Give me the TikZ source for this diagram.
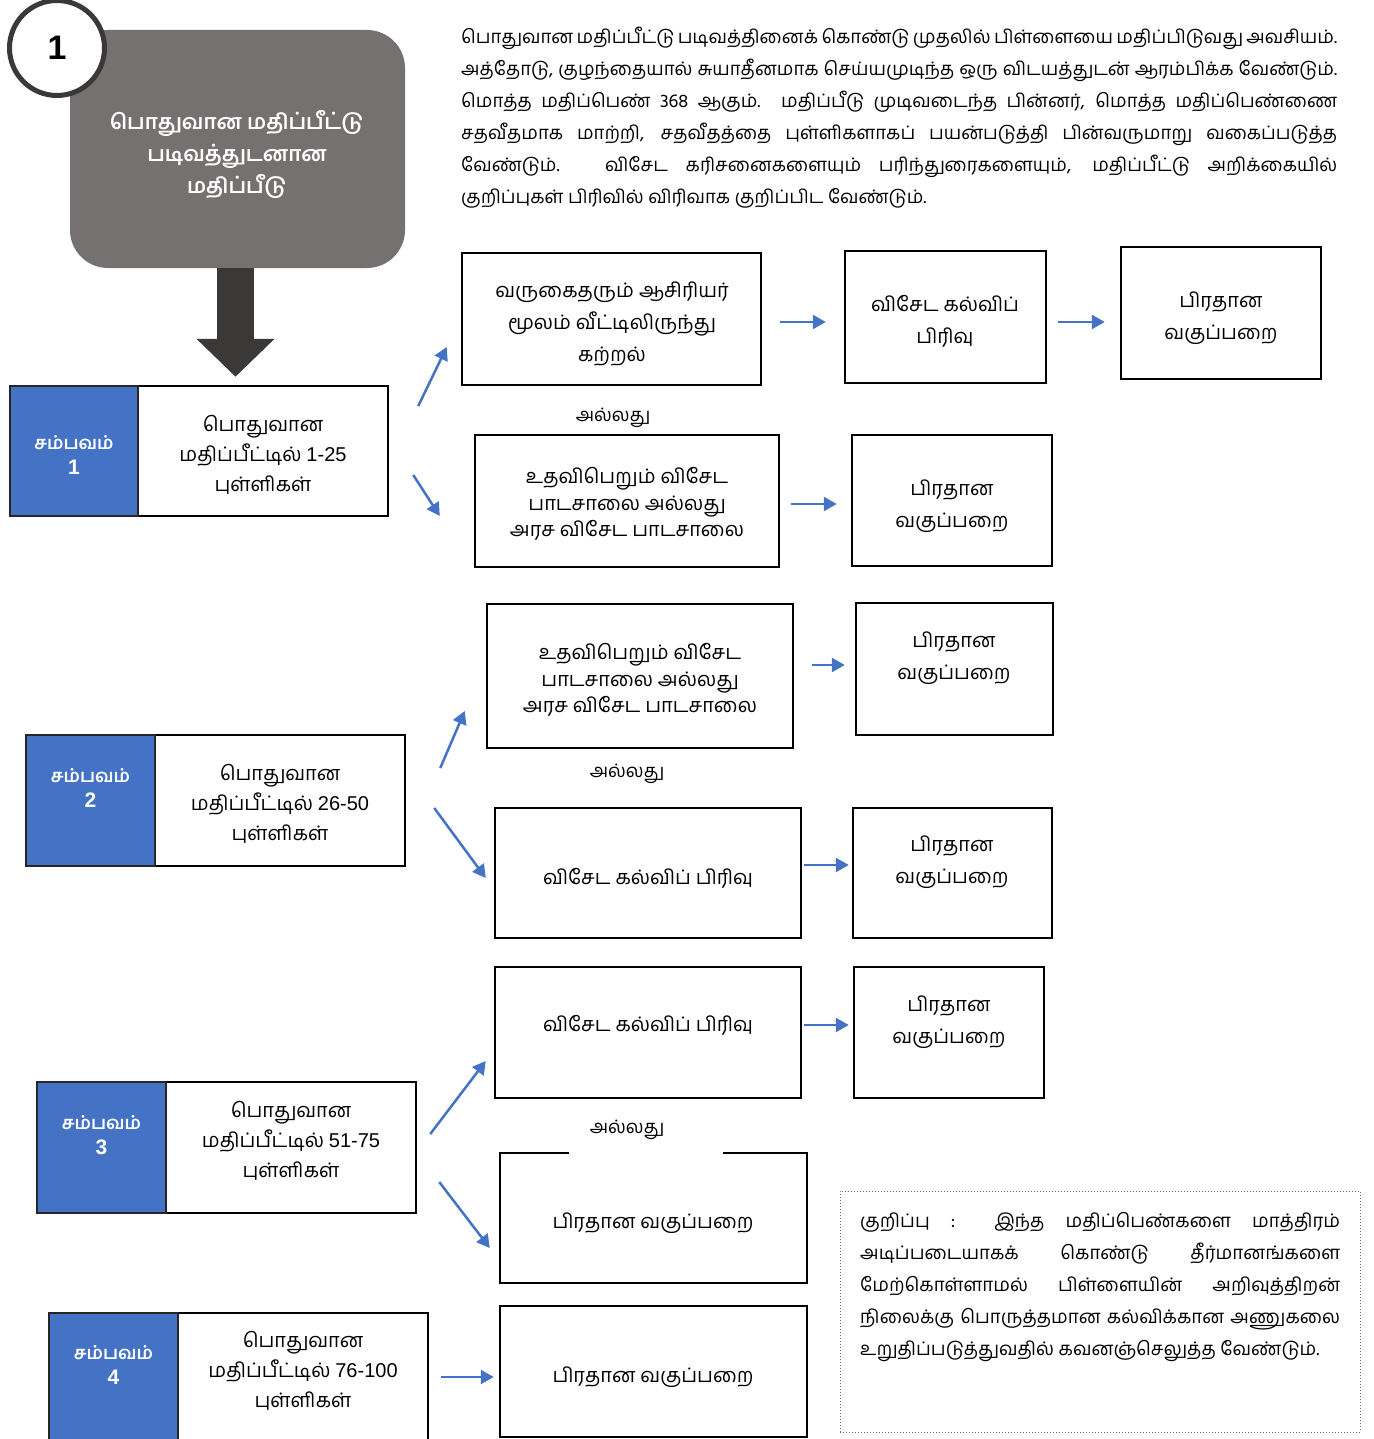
\documentclass[tikz,border=0pt]{standalone}
\usepackage{fontspec}
\setmainfont{Liberation Sans}
\newfontfamily\tam[Script=Tamil]{Hind Madurai}
\usetikzlibrary{arrows.meta,calc}
\definecolor{obl}{HTML}{4472C4}
\definecolor{ogray}{HTML}{767171}
\definecolor{odark}{HTML}{3B3838}
\newcommand{\lat}[1]{{\rmfamily #1}}
\newcommand{\bignum}[1]{{\rmfamily\fontsize{21}{25}\selectfont #1}}
\tikzset{
  bx/.style={draw=black, line width=2.5pt, inner sep=0pt},
  tt/.style={align=center, font=\tam\fontsize{20}{32}\selectfont, inner sep=0pt},
  tt3/.style={align=center, font=\tam\fontsize{20}{26.5}\selectfont, inner sep=0pt},
  arr/.style={draw=obl, line width=2.5pt, -{Triangle[length=13pt,width=14pt]}},
  sb/.style={fill=obl, draw=black!85, line width=2pt, inner sep=0pt, text=white, align=center, font=\tam\bfseries\fontsize{18}{25}\selectfont},
  sw/.style={draw=black, line width=2.5pt, fill=white, inner sep=0pt, align=center, font=\tam\fontsize{20}{30}\selectfont},
  orlbl/.style={font=\tam\fontsize{18.5}{20}\selectfont, inner sep=0pt},
  bigarr/.style={draw=odark, line width=37pt, -{Triangle[length=38pt,width=76pt]}},
}
\begin{document}
\begin{tikzpicture}[x=1pt,y=-1pt]
\useasboundingbox (0,0) rectangle (1373,1439);
% header
\node[fill=ogray, rounded corners=38pt, minimum width=335pt, minimum height=238pt, inner sep=0pt] (head) at (237.5,149) {};
\node[text=white, align=center, inner sep=0pt, font=\tam\bfseries\fontsize{21}{32}\selectfont] (headt) at (237,154) {பொதுவான மதிப்பீட்டு\\படிவத்துடனான\\மதிப்பீடு};
\node[circle, draw=odark, line width=5pt, fill=white, minimum size=95pt, inner sep=0pt, font=\bfseries\fontsize{34}{36}\selectfont] (num) at (57,48) {1};
% paragraph
\node[anchor=north west, text width=876pt, align=justify, inner sep=0pt, font=\tam\fontsize{18.6}{32}\selectfont] (intro) at (461,27) {பொதுவான மதிப்பீட்டு படிவத்தினைக் கொண்டு முதலில் பிள்ளையை மதிப்பிடுவது அவசியம்.\linebreak அத்தோடு, குழந்தையால் சுயாதீனமாக செய்யமுடிந்த ஒரு விடயத்துடன் ஆரம்பிக்க வேண்டும்.\linebreak மொத்த மதிப்பெண் 368 ஆகும். மதிப்பீடு முடிவடைந்த பின்னர், மொத்த மதிப்பெண்ணை\linebreak சதவீதமாக மாற்றி, சதவீதத்தை புள்ளிகளாகப் பயன்படுத்தி பின்வருமாறு வகைப்படுத்த\linebreak வேண்டும். விசேட கரிசனைகளையும் பரிந்துரைகளையும், மதிப்பீட்டு அறிக்கையில்\linebreak குறிப்புகள் பிரிவில் விரிவாக குறிப்பிட வேண்டும்.};
% samp boxes
\node[sw, minimum width=250pt, minimum height=130pt] (s1w) at (263,451) {};
\node[sw, draw=none, fill=none] (s1t) at (263,455) {பொதுவான\\மதிப்பீட்டில் \lat{1-25}\\புள்ளிகள்};
\node[sb, minimum width=128pt, minimum height=130pt] (s1b) at (74,451) {};
\node[sb, draw=none, fill=none] (s1l) at (74,455) {சம்பவம்\\\bignum{1}};
\node[sw, minimum width=250pt, minimum height=131pt] (s2w) at (280,800.5) {};
\node[sw, draw=none, fill=none] (s2t) at (280,804) {பொதுவான\\மதிப்பீட்டில் \lat{26-50}\\புள்ளிகள்};
\node[sb, minimum width=129pt, minimum height=131pt] (s2b) at (90.5,800.5) {};
\node[sb, draw=none, fill=none] (s2l) at (90.5,788) {சம்பவம்\\\bignum{2}};
\node[sw, minimum width=250pt, minimum height=131pt] (s3w) at (291,1147.5) {};
\node[sw, draw=none, fill=none] (s3t) at (291,1141) {பொதுவான\\மதிப்பீட்டில் \lat{51-75}\\புள்ளிகள்};
\node[sb, minimum width=129pt, minimum height=131pt] (s3b) at (101.5,1147.5) {};
\node[sb, draw=none, fill=none] (s3l) at (101.5,1135) {சம்பவம்\\\bignum{3}};
\node[sw, minimum width=250pt, minimum height=131pt] (s4w) at (303,1378.5) {};
\node[sw, draw=none, fill=none] (s4t) at (303,1371) {பொதுவான\\மதிப்பீட்டில் \lat{76-100}\\புள்ளிகள்};
\node[sb, minimum width=129pt, minimum height=131pt] (s4b) at (113.5,1378.5) {};
\node[sb, draw=none, fill=none] (s4l) at (113.5,1365) {சம்பவம்\\\bignum{4}};
% big arrow
\draw[bigarr] ($(head.south)+(-2,0)$) -- ($(head.south |- s1w.north)+(-2,-8)$);
% row 1
\node[bx, minimum width=299pt, minimum height=132pt] (a1) at (611.5,319) {};
\node[tt] (a1t) at (612,324) {வருகைதரும் ஆசிரியர்\\மூலம் வீட்டிலிருந்து\\கற்றல்};
\node[bx, minimum width=201pt, minimum height=132pt] (b1) at (945.5,317) {};
\node[tt] (b1t) at (945,321) {விசேட கல்விப்\\பிரிவு};
\node[bx, minimum width=200pt, minimum height=132pt] (c1) at (1221,313) {};
\node[tt] (c1t) at (1221,318) {பிரதான\\வகுப்பறை};
\node[orlbl] (or1) at (613,418) {அல்லது};
\node[bx, minimum width=304pt, minimum height=132pt] (a2) at (627,501) {};
\node[tt3] (a2t) at (627,504) {உதவிபெறும் விசேட\\பாடசாலை அல்லது\\அரச விசேட பாடசாலை};
\node[bx, minimum width=200pt, minimum height=131pt] (b2) at (952,500.5) {};
\node[tt] (b2t) at (952,506) {பிரதான\\வகுப்பறை};
% row 2
\node[bx, minimum width=306pt, minimum height=144pt] (r2a) at (640,676) {};
\node[tt3] (r2at) at (640,680) {உதவிபெறும் விசேட\\பாடசாலை அல்லது\\அரச விசேட பாடசாலை};
\node[bx, minimum width=197pt, minimum height=132pt] (r2b) at (954.5,669) {};
\node[tt] (r2bt) at (954,658) {பிரதான\\வகுப்பறை};
\node[orlbl] (or2) at (627,774) {அல்லது};
\node[bx, minimum width=306pt, minimum height=130pt] (r2c) at (648,873) {};
\node[tt] (r2ct) at (648,878) {விசேட கல்விப் பிரிவு};
\node[bx, minimum width=199pt, minimum height=130pt] (r2d) at (952.5,873) {};
\node[tt] (r2dt) at (952,862) {பிரதான\\வகுப்பறை};
% row 3
\node[bx, minimum width=306pt, minimum height=131pt] (r3a) at (648,1032.5) {};
\node[tt] (r3at) at (648,1025) {விசேட கல்விப் பிரிவு};
\node[bx, minimum width=190pt, minimum height=131pt] (r3b) at (949,1032.5) {};
\node[tt] (r3bt) at (949,1022) {பிரதான\\வகுப்பறை};
\node[orlbl] (or3) at (627,1130) {அல்லது};
\node[inner sep=0pt, minimum width=307pt, minimum height=130pt] (r3c) at (653.5,1218) {};
\draw[line width=2.5pt] ($(r3c.north west)+(69,0)$) -- (r3c.north west) -- (r3c.south west) -- (r3c.south east) -- (r3c.north east) -- ($(r3c.north east)+(-84,0)$);
\node[tt] (r3ct) at (653,1223) {பிரதான வகுப்பறை};
% row 4
\node[bx, minimum width=307pt, minimum height=131pt] (r4) at (653.5,1371.5) {};
\node[tt] (r4t) at (653,1377) {பிரதான வகுப்பறை};
% note
\node[draw=black!60, dotted, line width=1pt, minimum width=520pt, minimum height=241pt, inner sep=0pt] (note) at (1100,1311.5) {};
\node[anchor=north west, text width=480pt, align=justify, inner sep=0pt, font=\tam\fontsize{18.7}{32}\selectfont] (notet) at (860,1212) {குறிப்பு : இந்த மதிப்பெண்களை மாத்திரம்\linebreak அடிப்படையாகக் கொண்டு தீர்மானங்களை\linebreak மேற்கொள்ளாமல் பிள்ளையின் அறிவுத்திறன்\linebreak நிலைக்கு பொருத்தமான கல்விக்கான அணுகலை\linebreak உறுதிப்படுத்துவதில் கவனஞ்செலுத்த வேண்டும்.};
% arrows
\draw[arr] ($(a1.east)+(18,3)$) -- ($(b1.west)+(-18,5)$);
\draw[arr] ($(b1.east)+(11,5)$) -- ($(c1.west)+(-15,9)$);
\draw[arr] ($(a2.east)+(11,3)$) -- ($(b2.west)+(-14,3.5)$);
\draw[arr] ($(r2a.east)+(18,-11)$) -- ($(r2b.west)+(-10,-4)$);
\draw[arr] ($(r2c.east)+(2,-8)$) -- ($(r2d.west)+(-3,-8)$);
\draw[arr] ($(r3a.east)+(2,-7.5)$) -- ($(r3b.west)+(-4,-7.5)$);
\draw[arr] ($(s4w.east)+(12,-1.5)$) -- ($(r4.west)+(-5,5.5)$);
\draw[arr] ($(s1w.east)+(29,-45)$) -- ($(a1.west)+(-14,28)$);
\draw[arr] ($(s1w.east)+(24,24)$) -- ($(a2.west)+(-34,15)$);
\draw[arr] ($(s2w.east)+(34,-32.5)$) -- ($(r2a.west)+(-21,35)$);
\draw[arr] ($(s2w.east)+(28,7.5)$) -- ($(r2c.west)+(-8,5)$);
\draw[arr] ($(s3w.east)+(13,-13.5)$) -- ($(r3a.west)+(-8,28.5)$);
\draw[arr] ($(s3w.east)+(22,34.5)$) -- ($(r3c.west)+(-10,30)$);
\end{tikzpicture}
\end{document}
